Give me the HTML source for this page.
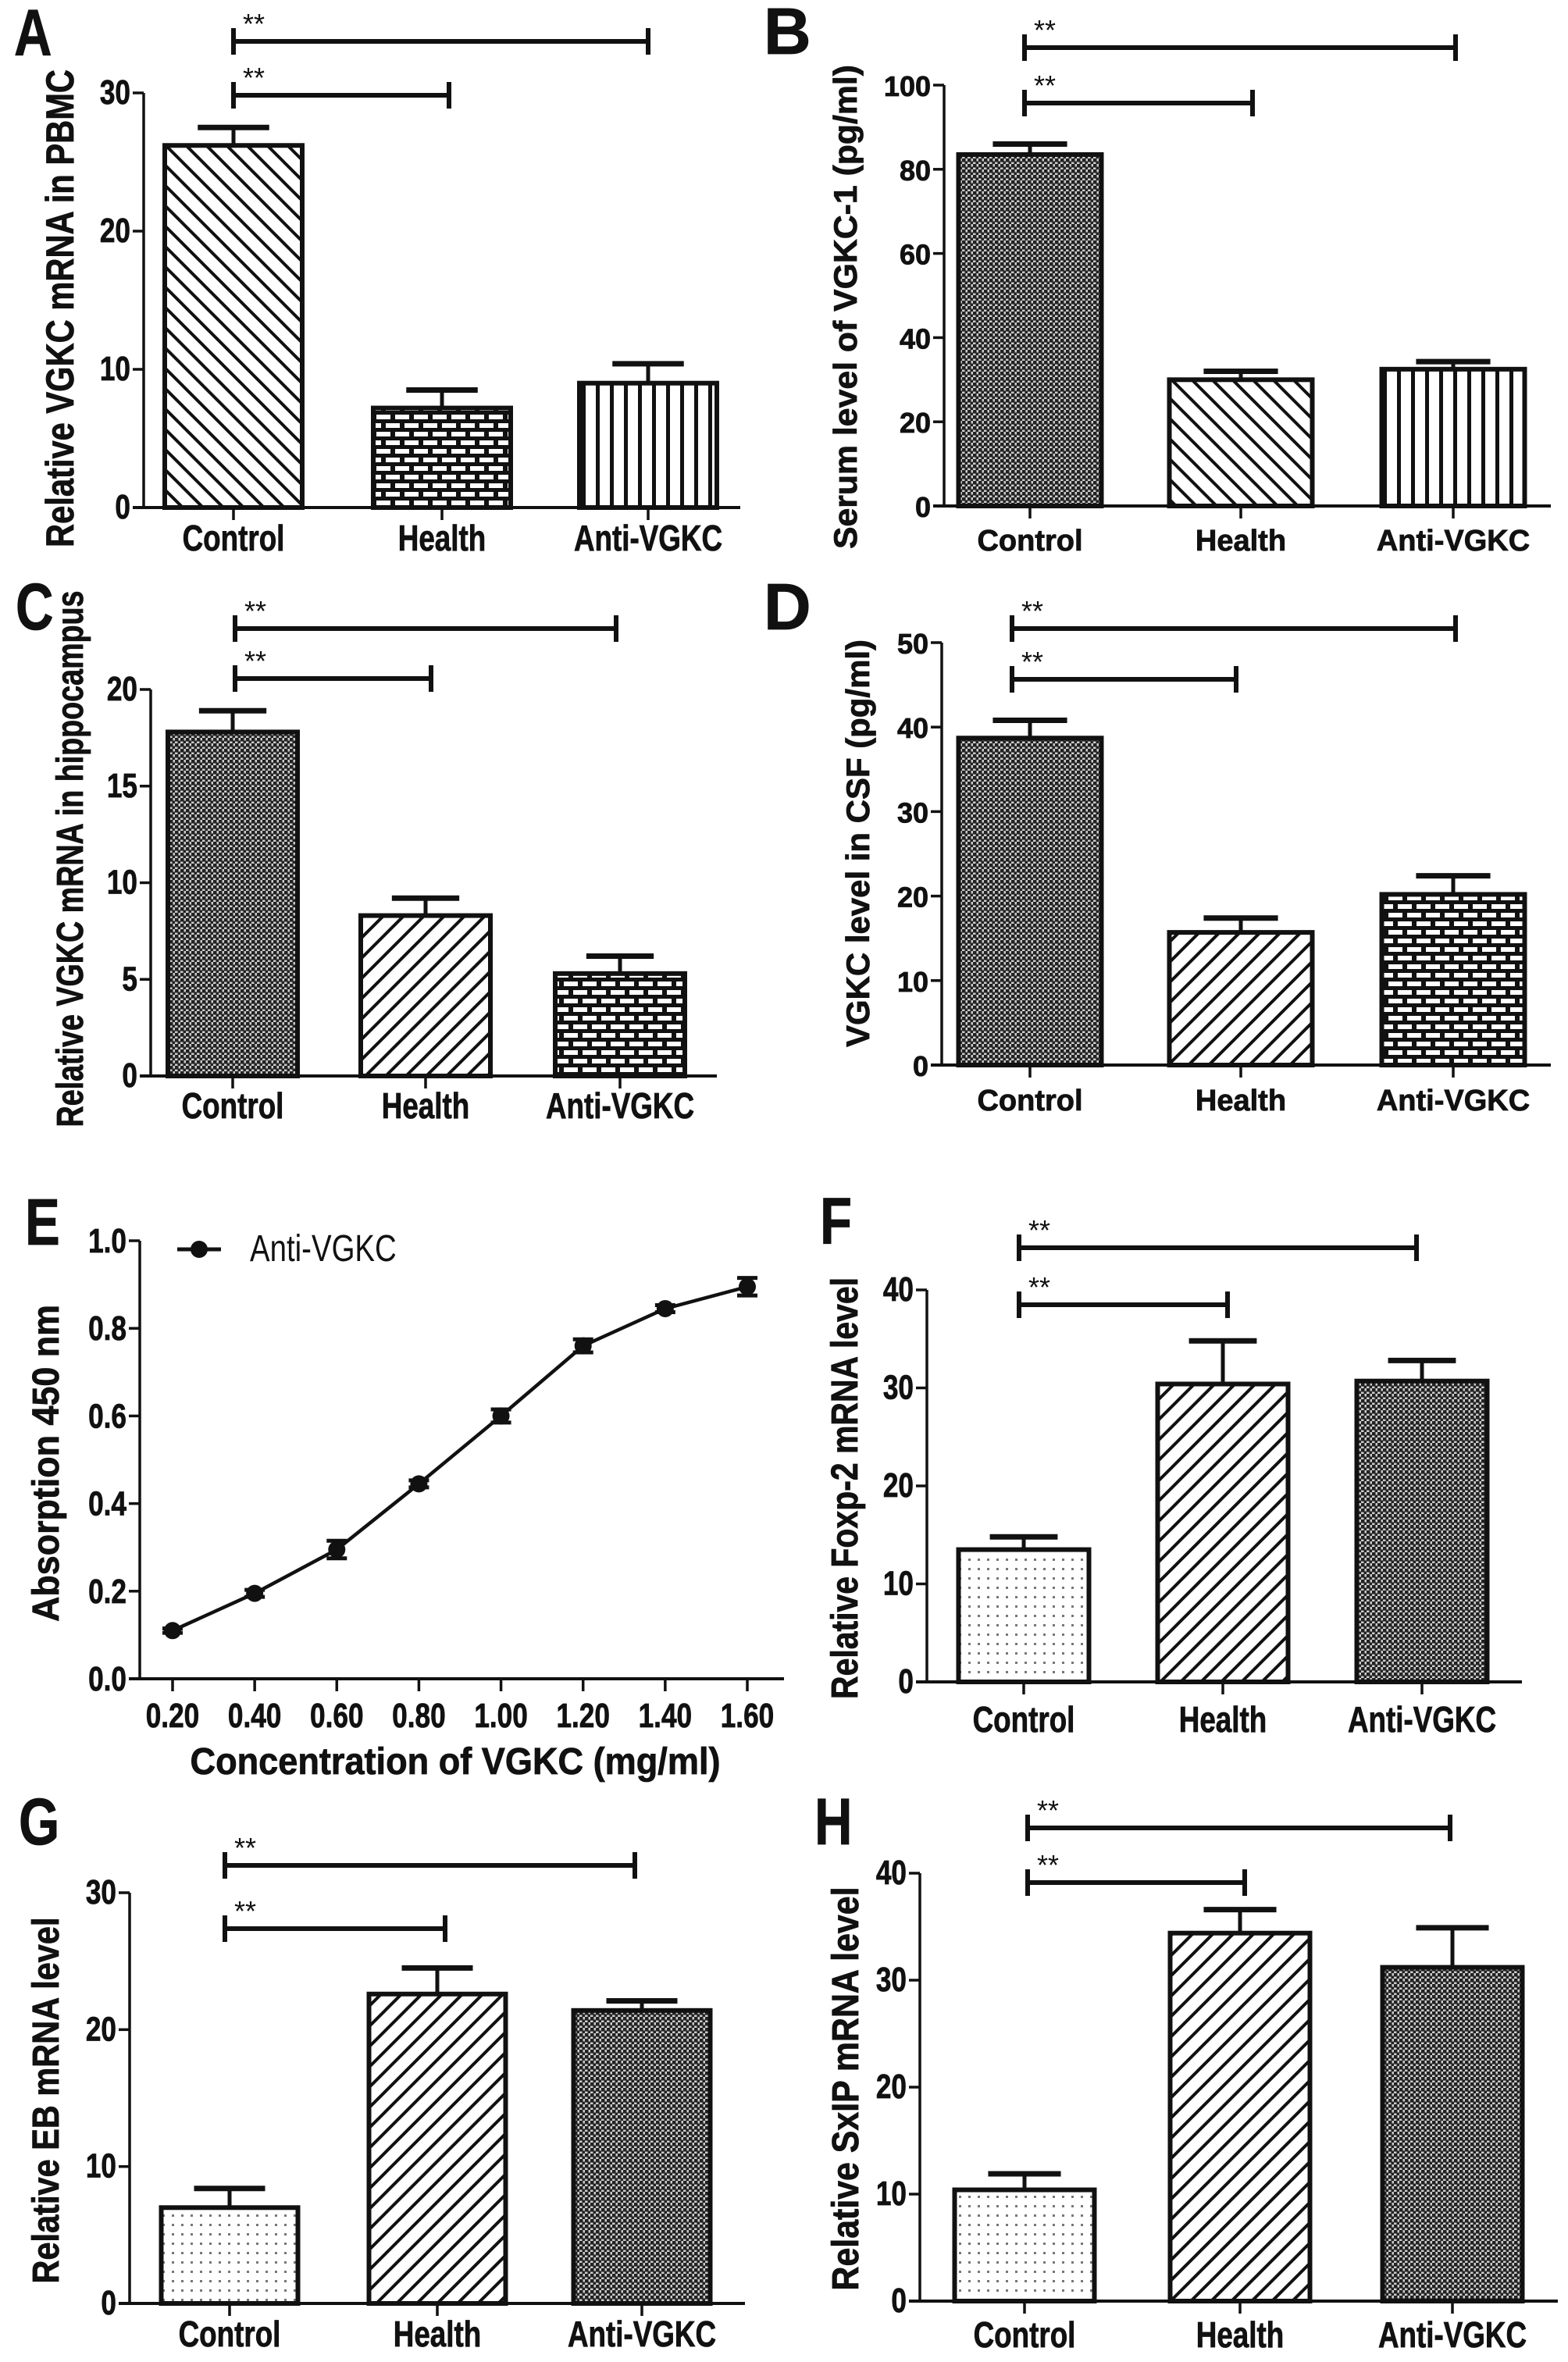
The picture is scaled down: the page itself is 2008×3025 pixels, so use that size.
<!DOCTYPE html>
<html><head><meta charset="utf-8"><style>
html,body{margin:0;padding:0;background:#fff}
svg{display:block}
</style></head><body>
<svg id="fig" xmlns="http://www.w3.org/2000/svg" width="2008" height="3025" viewBox="0 0 2008 3025">
<defs>
<pattern id="pDiagBack" patternUnits="userSpaceOnUse" width="26" height="26"><rect width="26" height="26" fill="#fff"/><path d="M-6,-6 L32,32 M-6,20 L6,32 M20,-6 L32,6" stroke="#111" stroke-width="4"/></pattern>
<pattern id="pDiagFwd" patternUnits="userSpaceOnUse" width="26" height="26"><rect width="26" height="26" fill="#fff"/><path d="M-6,32 L32,-6 M-6,6 L6,-6 M20,32 L32,20" stroke="#111" stroke-width="4"/></pattern>
<pattern id="pVert" patternUnits="userSpaceOnUse" width="18" height="10"><rect width="18" height="10" fill="#fff"/><rect x="7" width="5" height="10" fill="#111"/></pattern>
<pattern id="pBrick" patternUnits="userSpaceOnUse" width="24" height="22"><rect width="24" height="22" fill="#111"/><rect x="2" y="3" width="18" height="6" fill="#fff"/><rect x="14" y="14" width="18" height="6" fill="#fff"/><rect x="-10" y="14" width="18" height="6" fill="#fff"/></pattern>
<pattern id="pCross" patternUnits="userSpaceOnUse" width="7" height="7"><rect width="7" height="7" fill="#ccc"/><rect x="0" y="0" width="4.5" height="4.5" fill="#222"/><rect x="3.5" y="3.5" width="4.5" height="4.5" fill="#222"/></pattern>
<pattern id="pDots" patternUnits="userSpaceOnUse" width="12" height="12"><rect width="12" height="12" fill="#fff"/><rect x="4" y="4" width="3" height="3" fill="#777"/></pattern>
</defs>
<g id="root"></g>
</svg>
<script>
// ---------- Data ----------
const categories = ["Control","Health","Anti-VGKC"];
const aValues=[26.2,7.2,9.0]; const aErrors=[1.3,1.3,1.4]; const aTicks=[0,10,20,30];
const bValues=[83.5,30.0,32.5]; const bErrors=[2.5,2.0,1.8]; const bTicks=[0,20,40,60,80,100];
const cValues=[17.8,8.3,5.3]; const cErrors=[1.1,0.9,0.9]; const cTicks=[0,5,10,15,20];
const dValues=[38.7,15.7,20.2]; const dErrors=[2.1,1.7,2.2]; const dTicks=[0,10,20,30,40,50];
const fValues=[13.5,30.4,30.7]; const fErrors=[1.3,4.4,2.1]; const fTicks=[0,10,20,30,40];
const gValues=[7.0,22.6,21.4]; const gErrors=[1.4,1.9,0.7]; const gTicks=[0,10,20,30];
const hValues=[10.4,34.4,31.2]; const hErrors=[1.5,2.2,3.7]; const hTicks=[0,10,20,30,40];
const eConc=[0.2,0.4,0.6,0.8,1.0,1.2,1.4,1.6];
const eAbs=[0.11,0.195,0.295,0.445,0.6,0.76,0.845,0.895];
const eErr=[0.005,0.008,0.02,0.008,0.015,0.015,0.008,0.02];
const eYTicks=[0,0.2,0.4,0.6,0.8,1.0];
const eXTickLabels=["0.20","0.40","0.60","0.80","1.00","1.20","1.40","1.60"];

const NS="http://www.w3.org/2000/svg";
const root=document.getElementById('root');
const cv=document.createElement('canvas').getContext('2d');
function el(tag,attrs,parent){const e=document.createElementNS(NS,tag);for(const k in attrs)e.setAttribute(k,attrs[k]);(parent||root).appendChild(e);return e;}
function txt(parent,x,y,s,size,anchor,squeeze,weight,len){
  const w=weight||'bold';
  const t=el('text',{x:x,y:y,'font-family':'Liberation Sans, Arial, sans-serif','font-size':size,'font-weight':w,'text-anchor':anchor||'middle',fill:'#111'},parent);
  if(w==='bold'){t.setAttribute('stroke','#111');t.setAttribute('stroke-width','0.8');}
  t.textContent=s;
  cv.font=w+' '+size+'px "Liberation Sans"';
  const L=len||cv.measureText(s).width*(squeeze||1);
  t.setAttribute('textLength',L);t.setAttribute('lengthAdjust','spacingAndGlyphs');
  return t;
}
function line(p,x1,y1,x2,y2,w){return el('line',{x1:x1,y1:y1,x2:x2,y2:y2,stroke:'#111','stroke-width':w||5},p);}

function barPanel(c){
  const g=el('g',{});
  
  
  const span=c.ticks[c.ticks.length-1];
  const y=v=>c.y0-(c.y0-c.yTop)*v/span;
  const lt=txt(g,c.letterX,c.letterY,c.letter,84,'start',c.sq,'bold');
  
  
  c.values.forEach((v,i)=>{
    const cx=c.cats[i];
    const r=el('rect',{x:cx-c.bw/2,y:y(v),width:c.bw,height:c.y0-y(v),fill:'url(#'+c.pats[i]+')',stroke:'#111','stroke-width':6},g);
    
    
    const e1=line(g,cx,y(v),cx,y(v+c.errors[i]),5);
    
    
    line(g,cx-c.bw*0.26,y(v+c.errors[i]),cx+c.bw*0.26,y(v+c.errors[i]),7);
  });
  const ya=line(g,c.ax,c.y0,c.ax,c.yTop,3.5);
  
  
  const xa=line(g,c.ax-14,c.y0,c.xEnd,c.y0,4);
  
  
  c.ticks.forEach(t=>{
    line(g,c.ax-14,y(t),c.ax,y(t),3.5);
    const tl=txt(g,c.ax-17,y(t)+14,String(t),c.tickSize,'end',c.sq);
    
    
  });
  categories.forEach((s,i)=>{
    line(g,c.cats[i],c.y0,c.cats[i],c.y0+16,3.5);
    const cl=txt(g,c.cats[i],c.labY+16,s,c.catSize,'middle',c.sq);
    
    
  });
  const yt=txt(g,0,0,c.title,c.titleSize,'middle',1,'bold',c.titleLen);
  yt.setAttribute('transform','translate('+(c.titleX+17)+','+c.titleY+') rotate(-90)');
  
  
  c.sig.forEach(s=>{
    const sg=el('g',{},g);
    
    
    line(sg,c.sigL,s[0],s[1],s[0],6);
    line(sg,c.sigL,s[0]-17,c.sigL,s[0]+17,6);
    line(sg,s[1],s[0]-17,s[1],s[0]+17,6);
    txt(sg,c.sigL+12,s[0]-10,'**',36,'start',1,'normal');
  });
}
const N=0.8;
barPanel({name:'panel-a',letter:'A',letterX:18,letterY:71,ax:184,y0:650,yTop:119,xEnd:948,ticks:aTicks,values:aValues,errors:aErrors,cats:[299,566,830],bw:176,pats:['pDiagBack','pBrick','pVert'],labY:689,title:'Relative VGKC mRNA in PBMC',titleX:77,titleY:395,titleLen:612,titleSize:50,sig:[[53,830],[122,575]],sigL:299,sq:N,tickSize:44,catSize:46});
barPanel({name:'panel-b',letter:'B',letterX:978,letterY:69,ax:1209,y0:648,yTop:109,xEnd:1986,ticks:bTicks,values:bValues,errors:bErrors,cats:[1319,1589,1861],bw:183,pats:['pCross','pDiagBack','pVert'],labY:689,title:'Serum level of VGKC-1 (pg/ml)',titleX:1080,titleY:393,titleLen:620,titleSize:42,sig:[[61,1864],[132,1604]],sigL:1312,sq:1,tickSize:36,catSize:38});
barPanel({name:'panel-c',letter:'C',letterX:20,letterY:806,ax:193,y0:1378,yTop:883,xEnd:918,ticks:cTicks,values:cValues,errors:cErrors,cats:[298,545,794],bw:166,pats:['pCross','pDiagFwd','pBrick'],labY:1416,title:'Relative VGKC mRNA in hippocampus',titleX:89,titleY:1100,titleLen:687,titleSize:48,sig:[[805,789],[869,552]],sigL:301,sq:N,tickSize:44,catSize:46});
barPanel({name:'panel-d',letter:'D',letterX:978,letterY:806,ax:1206,y0:1364,yTop:823,xEnd:1986,ticks:dTicks,values:dValues,errors:dErrors,cats:[1319,1589,1861],bw:183,pats:['pCross','pDiagFwd','pBrick'],labY:1406,title:'VGKC level in CSF (pg/ml)',titleX:1096,titleY:1080,titleLen:522,titleSize:42,sig:[[805,1864],[870,1583]],sigL:1296,sq:1,tickSize:36,catSize:38});
barPanel({name:'panel-f',letter:'F',letterX:1050,letterY:1593,ax:1187,y0:2154,yTop:1652,xEnd:1949,ticks:fTicks,values:fValues,errors:fErrors,cats:[1311,1566,1821],bw:167,pats:['pDots','pDiagFwd','pCross'],labY:2202,title:'Relative Foxp-2 mRNA level',titleX:1081,titleY:1906,titleLen:540,titleSize:48,sig:[[1598,1814],[1671,1572]],sigL:1305,sq:N,tickSize:44,catSize:46});
barPanel({name:'panel-g',letter:'G',letterX:24,letterY:2362,ax:166,y0:2950,yTop:2424,xEnd:954,ticks:gTicks,values:gValues,errors:gErrors,cats:[294,560,822],bw:175,pats:['pDots','pDiagFwd','pCross'],labY:2989,title:'Relative EB mRNA level',titleX:58,titleY:2690,titleLen:469,titleSize:48,sig:[[2389,813],[2470,570]],sigL:288,sq:N,tickSize:44,catSize:46});
barPanel({name:'panel-h',letter:'H',letterX:1043,letterY:2362,ax:1178,y0:2947,yTop:2399,xEnd:1995,ticks:hTicks,values:hValues,errors:hErrors,cats:[1312,1588,1860],bw:179,pats:['pDots','pDiagFwd','pCross'],labY:2990,title:'Relative SxIP mRNA level',titleX:1082,titleY:2675,titleLen:517,titleSize:48,sig:[[2341,1857],[2411,1594]],sigL:1316,sq:N,tickSize:44,catSize:46});

(function(){
  const g=el('g',{});
  
  
  const ax=179,y0=2150,y1=1589,x0=221,x1=957;
  const X=v=>x0+(x1-x0)*(v-0.2)/1.4;
  const Y=v=>y0-(y0-y1)*v/1.0;
  const lt=txt(g,32,1594,'E',84,'start',N);
  
  
  const ya=line(g,ax,y0,ax,y1,3.5);
  
  
  const xa=line(g,ax-14,y0,1004,y0,4);
  
  
  eYTicks.forEach(t=>{
    line(g,ax-14,Y(t),ax,Y(t),3.5);
    const tl=txt(g,ax-17,Y(t)+15,t.toFixed(1),44,'end',N);
    
    
  });
  eConc.forEach((c,i)=>{
    line(g,X(c),y0,X(c),y0+16,3.5);
    const tl=txt(g,X(c),2212,eXTickLabels[i],44,'middle',N);
    
    
  });
  const xt=txt(g,583,2272,'Concentration of VGKC (mg/ml)',48,'middle',1,'bold',679);
  
  
  const yt=txt(g,0,0,'Absorption 450 nm',48,'middle',1,'bold',406);
  yt.setAttribute('transform','translate(75,1874) rotate(-90)');
  
  
  const pts=eConc.map((c,i)=>X(c)+','+Y(eAbs[i])).join(' ');
  const pl=el('polyline',{points:pts,fill:'none',stroke:'#111','stroke-width':4.5},g);
  
  
  eConc.forEach((c,i)=>{
    const cx=X(c),cy=Y(eAbs[i]),e=eErr[i];
    line(g,cx,Y(eAbs[i]-e),cx,Y(eAbs[i]+e),4);
    line(g,cx-13,Y(eAbs[i]+e),cx+13,Y(eAbs[i]+e),5);
    line(g,cx-13,Y(eAbs[i]-e),cx+13,Y(eAbs[i]-e),5);
    const p=el('circle',{cx:cx,cy:cy,r:11,fill:'#111'},g);
    
    
  });
  const lg=el('g',{},g);
  
  
  line(lg,227,1600,283,1600,5);
  el('circle',{cx:255,cy:1600,r:11,fill:'#111'},lg);
  txt(lg,320,1615,'Anti-VGKC',48,'start',N,'normal');
})();
</script>
</body></html>
